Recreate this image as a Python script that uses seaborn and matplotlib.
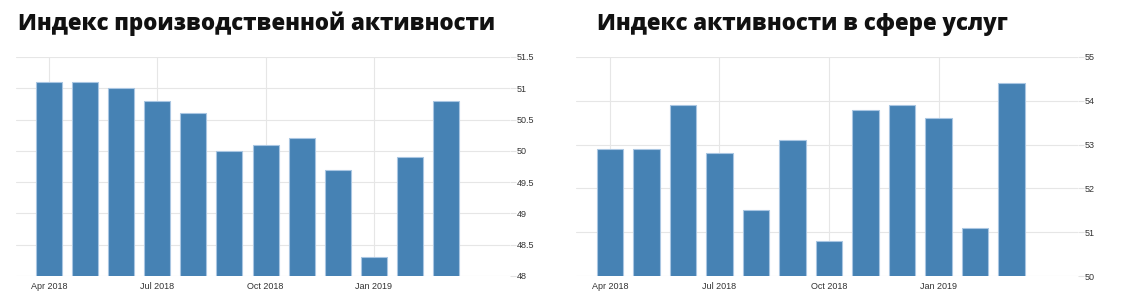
import matplotlib
matplotlib.use("Agg")
import matplotlib.pyplot as plt
import seaborn as sns
import pandas as pd

months = ["Apr 2018", "May 2018", "Jun 2018", "Jul 2018", "Aug 2018", "Sep 2018",
          "Oct 2018", "Nov 2018", "Dec 2018", "Jan 2019", "Feb 2019", "Mar 2019"]
manufacturing = [51.1, 51.1, 51.0, 50.8, 50.6, 50.0, 50.1, 50.2, 49.7, 48.3, 49.9, 50.8]
services = [52.9, 52.9, 53.9, 52.8, 51.5, 53.1, 50.8, 53.8, 53.9, 53.6, 51.1, 54.4]
tick_months = ["Apr 2018", "Jul 2018", "Oct 2018", "Jan 2019"]
titles = ["Индекс производственной активности", "Индекс активности в сфере услуг"]
left_ticks = [48, 48.5, 49, 49.5, 50, 50.5, 51, 51.5]
right_ticks = [50, 51, 52, 53, 54, 55]

sns.set_theme(style="white")
plt.rcParams['font.family'] = ['Liberation Sans', 'DejaVu Sans']

fig = plt.figure(figsize=(11.23, 3.04), dpi=100)
W, H = 1123, 304

def make_axes(x0, x1, y0, y1):
    return fig.add_axes([x0 / W, 1 - y1 / H, (x1 - x0) / W, (y1 - y0) / H])

ax1 = make_axes(16, 510, 57, 276)
ax2 = make_axes(576, 1078, 57, 276)

bar_color = "#4682b4"
edge_color = "#a9c6e2"

panels = [
    (ax1, manufacturing, left_ticks, (48, 51.5), (-0.91, 12.77), 0.72, titles[0], 18),
    (ax2, services, right_ticks, (50, 55), (-0.93, 12.82), 0.73, titles[1], 597),
]

for ax, vals, yt, ylim, xlim, bw, title, tx in panels:
    df = pd.DataFrame({"month": months, "value": vals})
    sns.barplot(data=df, x="month", y="value", ax=ax, color=bar_color,
                width=bw, edgecolor=edge_color, linewidth=0.8, saturation=1)
    ax.set_ylim(*ylim)
    ax.set_xlim(*xlim)
    ax.set_xlabel("")
    ax.set_ylabel("")
    for s in ax.spines.values():
        s.set_visible(False)
    ax.yaxis.tick_right()
    ax.set_yticks(yt)
    ax.set_yticklabels([f"{v:g}" for v in yt])
    ax.tick_params(axis="y", length=4, color="#e3e3e3", width=0.8, pad=1,
                   labelsize=6.5, labelcolor="#333333")
    ax.set_xticks([months.index(m) for m in tick_months])
    ax.set_xticklabels(tick_months)
    ax.tick_params(axis="x", length=0, pad=4, labelsize=6.5, labelcolor="#333333")
    ax.grid(True, color="#e6e6e6", linewidth=0.8)
    ax.set_axisbelow(True)
    fig.text(tx / W, 1 - 24 / H, title, fontsize=16, fontweight="heavy",
             family=["Open Sans", "DejaVu Sans"],
             color="#111111", va="center", ha="left")

fig.savefig("out.png", dpi=100)
